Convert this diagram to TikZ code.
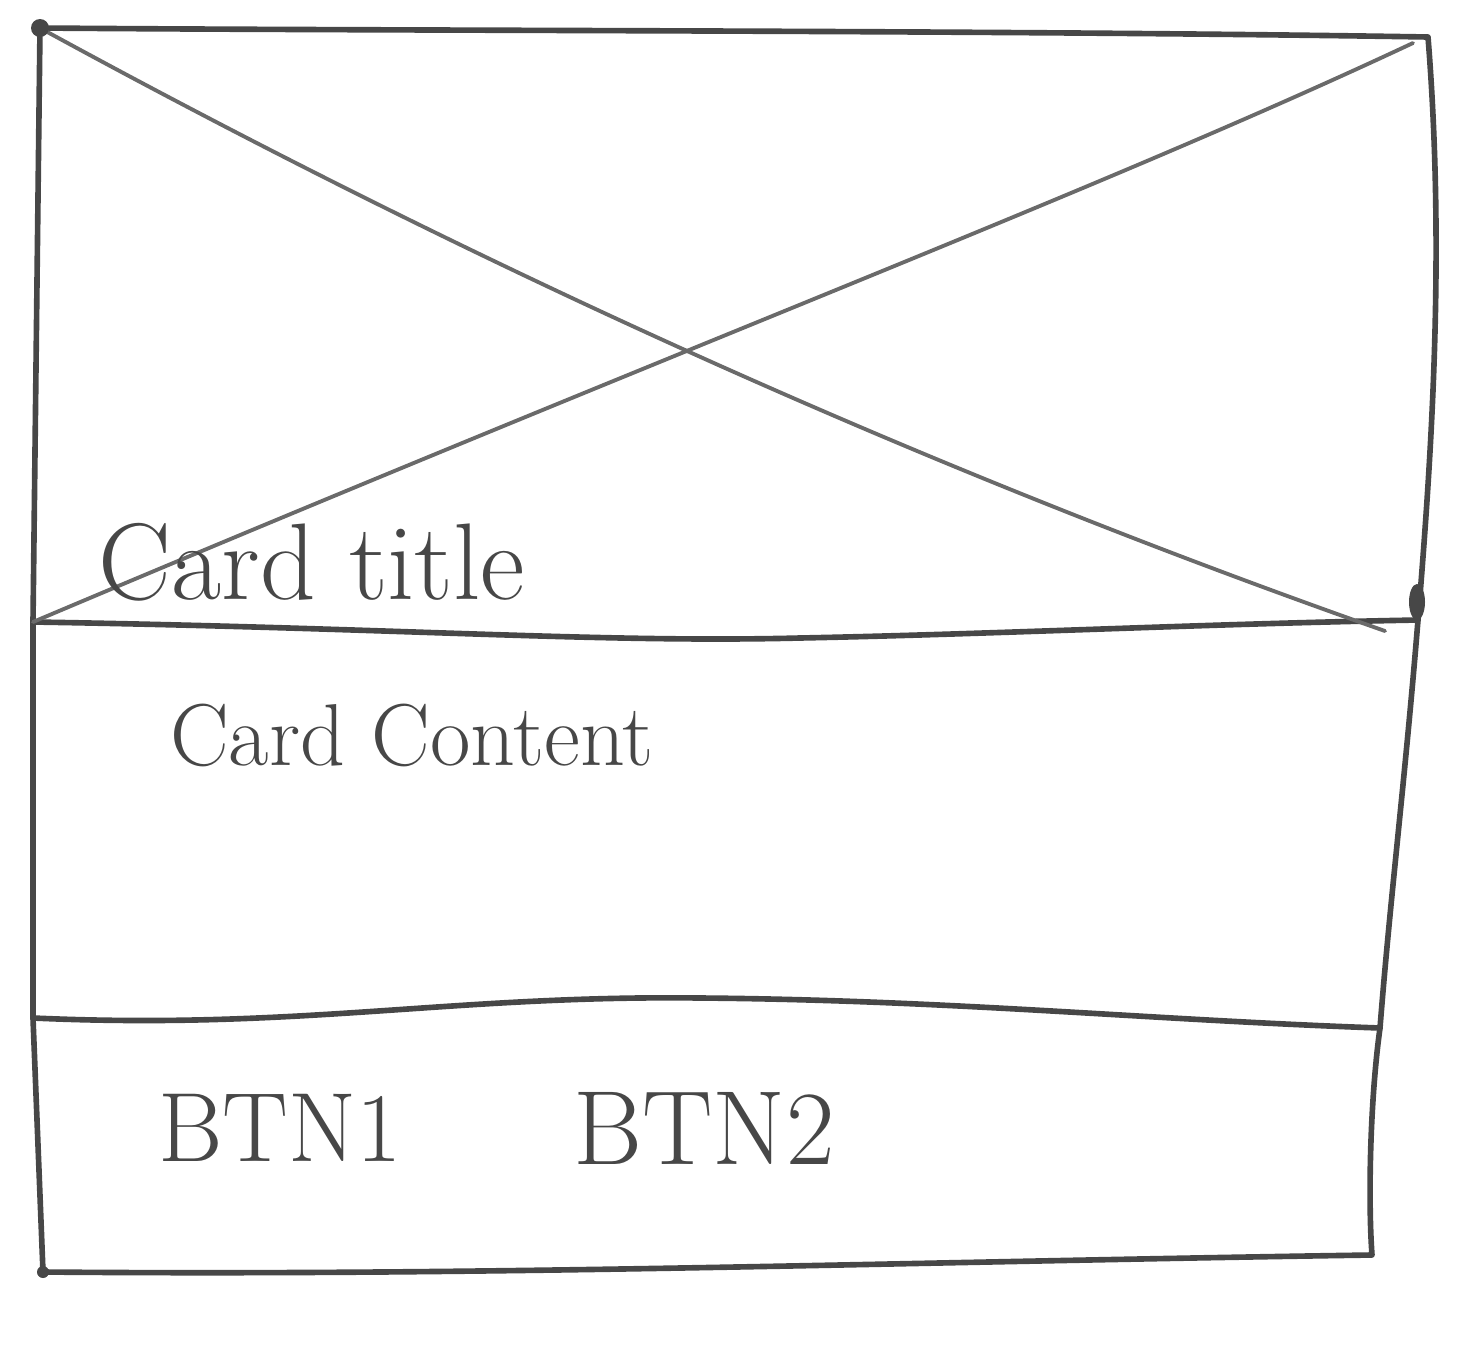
\documentclass[tikz,border=0pt]{standalone}
\usepackage{tikz}
\usetikzlibrary{positioning}
\definecolor{pencil}{HTML}{474747}
\definecolor{softpencil}{HTML}{6A6A6A}

\begin{document}
\begin{tikzpicture}[
        x=0.01cm, y=-0.01cm,
        frame/.style={draw=pencil, line width=1.6pt, line join=round, line cap=round},
        cross/.style={draw=softpencil, line width=1.1pt, line cap=round},
        blob/.style={fill=pencil},
        label/.style={text=pencil, inner sep=0pt}
    ]
        \useasboundingbox (0,0) rectangle (1469,1351);

        % corners of the card
        \coordinate (tl) at (40,28);
        \coordinate (tr) at (1428,37);
        \coordinate (ml) at (33,622);
        \coordinate (mr) at (1418,620);
        \coordinate (bl) at (33,1018);
        \coordinate (br) at (1380,1028);
        \coordinate (el) at (43,1272);
        \coordinate (er) at (1372,1255);

        % outline
        \draw[frame] (tl) .. controls (400,31) and (1000,30) .. (tr)
            .. controls (1445,250) and (1432,450) .. (mr)
            .. controls (1405,780) and (1390,900) .. (br)
            .. controls (1370,1100) and (1368,1200) .. (er)
            .. controls (900,1262) and (500,1276) .. (el)
            -- (bl) -- (ml) -- cycle;

        % dividers
        \draw[frame] (ml) .. controls (400,628) and (600,643) .. (800,638)
            .. controls (1000,634) and (1200,624) .. (mr);
        \draw[frame] (bl) .. controls (300,1030) and (450,995) .. (700,998)
            .. controls (950,1000) and (1150,1020) .. (br);

        % image placeholder
        \coordinate (xa) at (1385,631);
        \coordinate (xb) at (1413,43);
        \draw[cross] (tl) .. controls (483,270) and (927,470) .. (xa);
        \draw[cross] (xb) .. controls (1100,190) and (700,340) .. (ml);

        % ink blobs
        \fill[blob] (tl) circle (9);
        \fill[blob] (1417,602) ellipse (8 and 18);
        \fill[blob] (el) circle (6);

        % texts
        \node[label, font=\fontsize{31}{36}\selectfont] (title) at (312,562) {Card title};
        \node[label, font=\fontsize{25}{30}\selectfont] (content) at (412,735) {Card Content};
        \node[label, font=\fontsize{28}{34}\selectfont] (btna) at (280,1128) {BTN1};
        \node[label, font=\fontsize{30}{36}\selectfont] (btnb) at (704,1128) {BTN2};
    \end{tikzpicture}
\end{document}
